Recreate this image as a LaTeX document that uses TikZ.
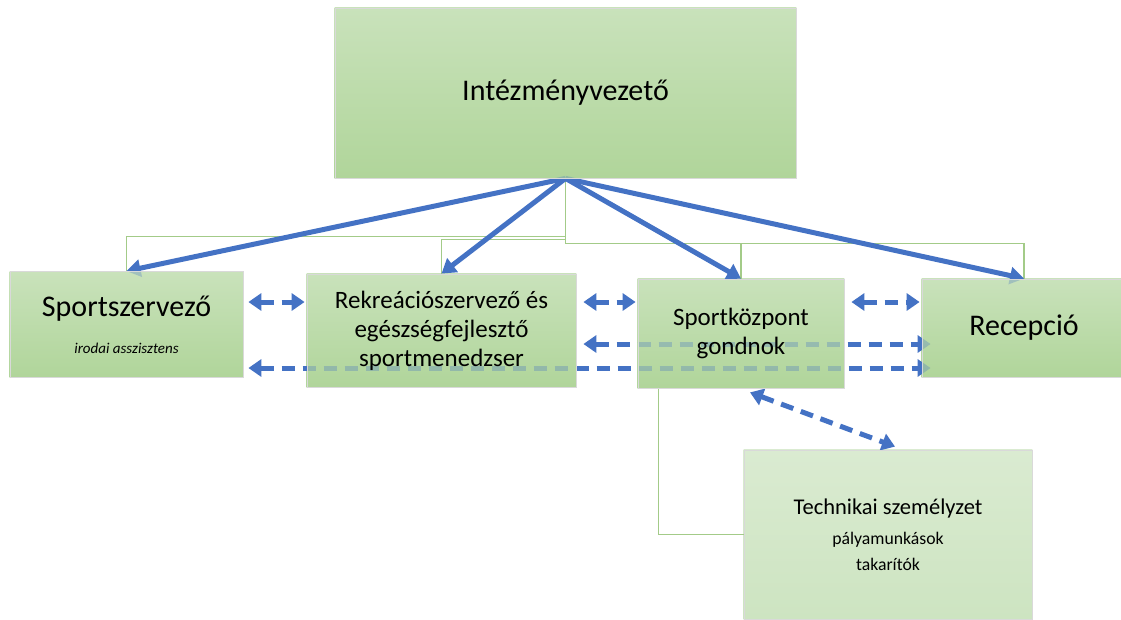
\documentclass[tikz,border=0pt]{standalone}
\usepackage{fontspec}
\setmainfont{Carlito}
\usetikzlibrary{arrows.meta,calc}
\tikzset{>=Triangle}
\definecolor{arrblue}{HTML}{4472C4}
\definecolor{treegreen}{HTML}{A3CB88}
\definecolor{boxtop}{HTML}{C9E2BB}
\definecolor{boxbot}{HTML}{B0D59A}
\definecolor{techtop}{HTML}{DAEBD1}
\definecolor{techbot}{HTML}{CDE4C1}
\pgfdeclarelayer{boxback}
\pgfdeclarelayer{links}
\pgfsetlayers{boxback,links,main}

\begin{document}
\begin{tikzpicture}[x=1pt,y=-1pt,
  box/.style={draw=black!15,line width=.8pt,top color=boxtop,bottom color=boxbot,
    fill opacity=.7,text opacity=1,align=center,inner sep=0pt},
  techbox/.style={box,top color=techtop,bottom color=techbot},
  treeline/.style={treegreen,line width=1.2pt},
  solidarr/.style={arrblue,line width=5pt,-{Triangle[length=14pt,width=17pt]}},
  dasharr/.style={arrblue,line width=5pt,dash pattern=on 13pt off 8pt,
    {Triangle[length=13pt,width=17pt]}-{Triangle[length=13pt,width=17pt]}}]
\useasboundingbox (0,0) rectangle (1121,619);

% boxes
\node[box,minimum width=461pt,minimum height=170pt,font=\fontsize{30}{36}\selectfont] (vez) at (565.5,93) {Intézményvezető};
\node[box,minimum width=233pt,minimum height=106pt,font=\fontsize{30}{36}\selectfont] (sport) at (126.5,324.5)
  {Sportszervező\\[1pt]{\fontsize{15}{18}\selectfont\itshape irodai asszisztens}};
\node[box,minimum width=269pt,minimum height=113pt,font=\fontsize{25}{29}\selectfont] (rekr) at (441.5,330.5)
  {Rekreációszervező és\\egészségfejlesztő\\sportmenedzser};
\node[box,minimum width=206pt,minimum height=109pt,font=\fontsize{25}{29}\selectfont] (gond) at (741,333.5)
  {Sportközpont\\gondnok};
\node[box,minimum width=204pt,minimum height=98pt,font=\fontsize{30}{36}\selectfont] (recep) at (1024,328) {Recepció};
\node[techbox,minimum width=288pt,minimum height=169pt,font=\fontsize{17.7}{26}\selectfont] (tech) at (888,534.5)
  {{\fontsize{22.5}{30}\selectfont Technikai személyzet}\\[4pt]pályamunkások\\takarítók};

\begin{pgfonlayer}{boxback}
\foreach \b in {vez,sport,rekr,gond,recep}
  \shade[top color=boxtop,bottom color=boxbot] (\b.south west) rectangle (\b.north east);
\shade[top color=techtop,bottom color=techbot] (tech.south west) rectangle (tech.north east);
\end{pgfonlayer}

\begin{pgfonlayer}{links}
% tree
\draw[treeline] (vez.south) -- ++(0,58) -| (sport.north);
\draw[treeline] (vez.south) -- ++(0,61) -| (rekr.north);
\draw[treeline] (vez.south) -- ++(0,65) -| (gond.north);
\draw[treeline] (vez.south) -- ++(0,65) -| (recep.north);
\draw[treeline] ([xshift=21pt]gond.south west) |- (tech.west);
% reports
\foreach \b in {sport,rekr,gond,recep}
  \draw[solidarr] (vez.south) -- (\b.north);
% cooperation
\coordinate (rowA) at (0,302);
\coordinate (rowB) at (0,344);
\coordinate (rowC) at (0,368);
\draw[dasharr,shorten <=5pt,shorten >=2pt] (sport.east |- rowA) -- (rekr.west |- rowA);
\draw[dasharr,shorten <=7pt,shorten >=2pt] (rekr.east |- rowA) -- (gond.west |- rowA);
\draw[dasharr,shorten <=7pt,shorten >=2pt] (gond.east |- rowA) -- (recep.west |- rowA);
\draw[dasharr,shorten <=7pt,shorten >=-9pt] (rekr.east |- rowB) -- (recep.west |- rowB);
\draw[dasharr,shorten <=5pt,shorten >=-9pt] (sport.east |- rowC) -- (recep.west |- rowC);
\draw[dasharr] ([xshift=9pt,yshift=-4pt]gond.south) -- ([xshift=7pt,yshift=3pt]tech.north);
\end{pgfonlayer}
\end{tikzpicture}
\end{document}
